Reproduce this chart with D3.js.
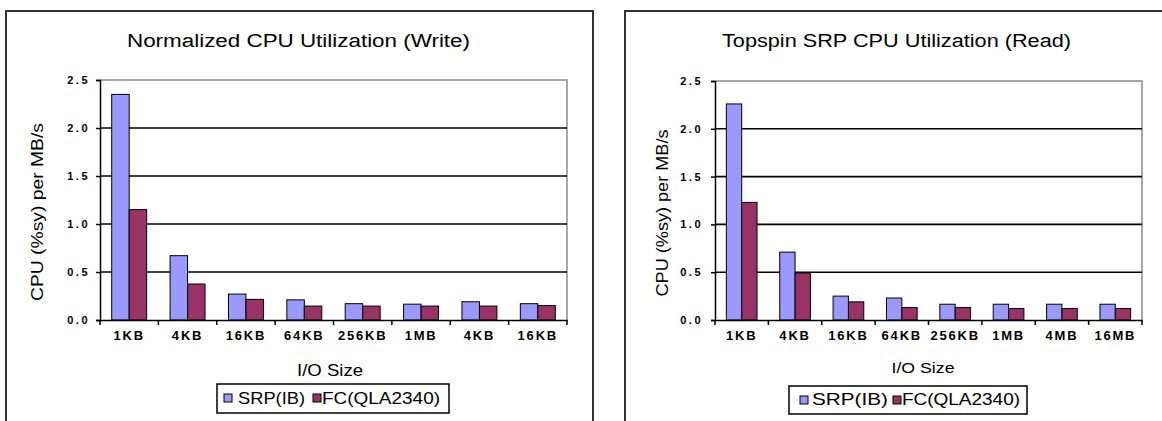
<!DOCTYPE html>
<html>
<head>
<meta charset="utf-8">
<script src="https://cdn.jsdelivr.net/npm/d3@7"></script>
<style>
  html, body { margin: 0; padding: 0; background: #fff; }
  svg { display: block; }
  text { font-family: "Liberation Sans", Arial, sans-serif; fill: #000; }
</style>
</head>
<body>
<svg id="chart" width="1162" height="421"></svg>
<script>
// ---- data ----
const writeCategories = ["1KB", "4KB", "16KB", "64KB", "256KB", "1MB", "4KB", "16KB"];
const readCategories  = ["1KB", "4KB", "16KB", "64KB", "256KB", "1MB", "4MB", "16MB"];
const seriesNames = ["SRP(IB)", "FC(QLA2340)"];
const writeSRP = [2.35, 0.67, 0.27, 0.21, 0.17, 0.165, 0.19, 0.17];
const writeFC  = [1.15, 0.375, 0.215, 0.145, 0.145, 0.145, 0.145, 0.15];
const readSRP  = [2.26, 0.71, 0.25, 0.23, 0.165, 0.165, 0.165, 0.165];
const readFC   = [1.23, 0.49, 0.19, 0.13, 0.13, 0.12, 0.12, 0.12];
const yTicks = [0, 0.5, 1.0, 1.5, 2.0, 2.5];
const yTitle = "CPU (%sy) per MB/s";
const xTitle = "I/O Size";
const writeTitle = "Normalized CPU Utilization (Write)";
const readTitle = "Topspin SRP CPU Utilization (Read)";
const colors = ["#9999FF", "#993366"];

const svg = d3.select("#chart");
svg.append("rect").attr("width", 1162).attr("height", 421).attr("fill", "#fff");

function drawPanel(cfg) {
  const g = svg.append("g");
  // panel frame
  g.append("rect")
    .attr("x", cfg.frame[0]).attr("y", cfg.frame[1])
    .attr("width", cfg.frame[2]).attr("height", cfg.frame[3])
    .attr("fill", "none").attr("stroke", "#333").attr("stroke-width", 2);

  const x0 = d3.scaleBand().domain(d3.range(cfg.categories.length))
    .range([cfg.left, cfg.right]).padding(0);
  const x1 = d3.scaleBand().domain(d3.range(seriesNames.length))
    .range([0, x0.bandwidth()]).paddingInner(0).paddingOuter(cfg.barPad);
  const y = d3.scaleLinear().domain([0, 2.5]).range([cfg.bottom, cfg.top]);

  // plot area border (gray top and right)
  g.append("path")
    .attr("d", `M${cfg.left},${y(2.5)}H${cfg.right}V${cfg.bottom}`)
    .attr("fill", "none").attr("stroke", "#8c8c8c").attr("stroke-width", 1.5);

  // gridlines
  g.append("g").selectAll("line")
    .data(yTicks.filter(t => t > 0 && t < 2.5))
    .join("line")
    .attr("x1", cfg.left).attr("x2", cfg.right)
    .attr("y1", d => y(d)).attr("y2", d => y(d))
    .attr("stroke", "#000").attr("stroke-width", 1.6);

  // bars
  const series = [cfg.srp, cfg.fc];
  series.forEach((vals, si) => {
    g.append("g").selectAll("rect")
      .data(vals)
      .join("rect")
      .attr("x", (d, i) => x0(i) + x1(si))
      .attr("y", d => y(d))
      .attr("width", x1.bandwidth())
      .attr("height", d => y(0) - y(d))
      .attr("fill", colors[si])
      .attr("stroke", "#000").attr("stroke-width", 1);
  });

  // y axis
  const ya = g.append("g").attr("transform", `translate(${cfg.left},0)`)
    .call(d3.axisLeft(y).tickValues(yTicks).tickFormat(d3.format(".1f"))
      .tickSize(4).tickPadding(cfg.yPad));
  ya.select(".domain").attr("stroke", "#000").attr("stroke-width", 1.5);
  ya.selectAll(".tick line").attr("stroke", "#000").attr("stroke-width", 1.5);
  ya.selectAll(".tick text")
    .style("font-size", "11px").style("font-weight", "bold")
    .style("letter-spacing", "2.5px").attr("fill", "#000");

  // x axis
  const xa = g.append("g").attr("transform", `translate(0,${cfg.bottom})`)
    .call(d3.axisBottom(x0).tickFormat(i => cfg.categories[i]).tickSize(0).tickPadding(cfg.xPad));
  xa.select(".domain").attr("stroke", "#000").attr("stroke-width", 1.5);
  xa.selectAll(".tick text")
    .style("font-size", "13px").style("font-weight", "bold")
    .style("letter-spacing", "1.8px").attr("fill", "#000");
  // boundary ticks
  const bounds = d3.range(cfg.categories.length + 1).map(i => i < cfg.categories.length ? x0(i) : cfg.right);
  xa.append("g").selectAll("line").data(bounds).join("line")
    .attr("x1", d => d).attr("x2", d => d).attr("y1", 0).attr("y2", 5)
    .attr("stroke", "#000").attr("stroke-width", 1.5);

  // title
  g.append("text").attr("x", cfg.titleX).attr("y", 47)
    .attr("textLength", cfg.titleLen).attr("lengthAdjust", "spacingAndGlyphs")
    .style("font-size", "18px").text(cfg.title);

  // y title
  g.append("text")
    .attr("transform", `translate(${cfg.yTitleX},${cfg.yTitleY}) rotate(-90)`)
    .attr("text-anchor", "middle")
    .attr("textLength", cfg.yTitleLen).attr("lengthAdjust", "spacingAndGlyphs")
    .style("font-size", "17px").text(yTitle);

  // x title
  g.append("text").attr("x", cfg.xTitleX).attr("y", cfg.xTitleY)
    .attr("text-anchor", "middle")
    .attr("textLength", cfg.xTitleLen).attr("lengthAdjust", "spacingAndGlyphs")
    .style("font-size", cfg.xTitleSize).text(xTitle);

  // legend
  const L = cfg.legend;
  g.append("rect").attr("x", L.box[0]).attr("y", L.box[1])
    .attr("width", L.box[2]).attr("height", L.box[3])
    .attr("fill", "#fff").attr("stroke", "#000").attr("stroke-width", 1.5);
  seriesNames.forEach((name, si) => {
    g.append("rect").attr("x", L.sw[si]).attr("y", L.swY)
      .attr("width", 8).attr("height", 8)
      .attr("fill", colors[si]).attr("stroke", "#000").attr("stroke-width", 1);
    g.append("text").attr("x", L.tx[si]).attr("y", L.ty)
      .attr("textLength", L.tl[si]).attr("lengthAdjust", "spacingAndGlyphs")
      .style("font-size", "17px").text(name);
  });
}

drawPanel({
  frame: [6, 11, 587, 430],
  left: 100, right: 567, top: 80, bottom: 320,
  barPad: 0.67, yPad: 6, xPad: 11,
  categories: writeCategories, srp: writeSRP, fc: writeFC,
  title: writeTitle, titleX: 127, titleLen: 343,
  yTitleX: 43, yTitleY: 212, yTitleLen: 178,
  xTitleX: 330, xTitleY: 376, xTitleLen: 66, xTitleSize: "17px",
  legend: { box: [217, 384, 232, 29], sw: [224, 313], swY: 394,
            tx: [238, 322], ty: 404, tl: [67, 118] }
});

drawPanel({
  frame: [625, 11, 600, 430],
  left: 715, right: 1142, top: 81, bottom: 320,
  barPad: 0.74, yPad: 8, xPad: 11,
  categories: readCategories, srp: readSRP, fc: readFC,
  title: readTitle, titleX: 722, titleLen: 349,
  yTitleX: 668, yTitleY: 213, yTitleLen: 167,
  xTitleX: 923, xTitleY: 373, xTitleLen: 63, xTitleSize: "15px",
  legend: { box: [789, 386, 238, 28], sw: [800, 893], swY: 396,
            tx: [812, 902], ty: 405, tl: [76, 118] }
});
</script>
</body>
</html>
